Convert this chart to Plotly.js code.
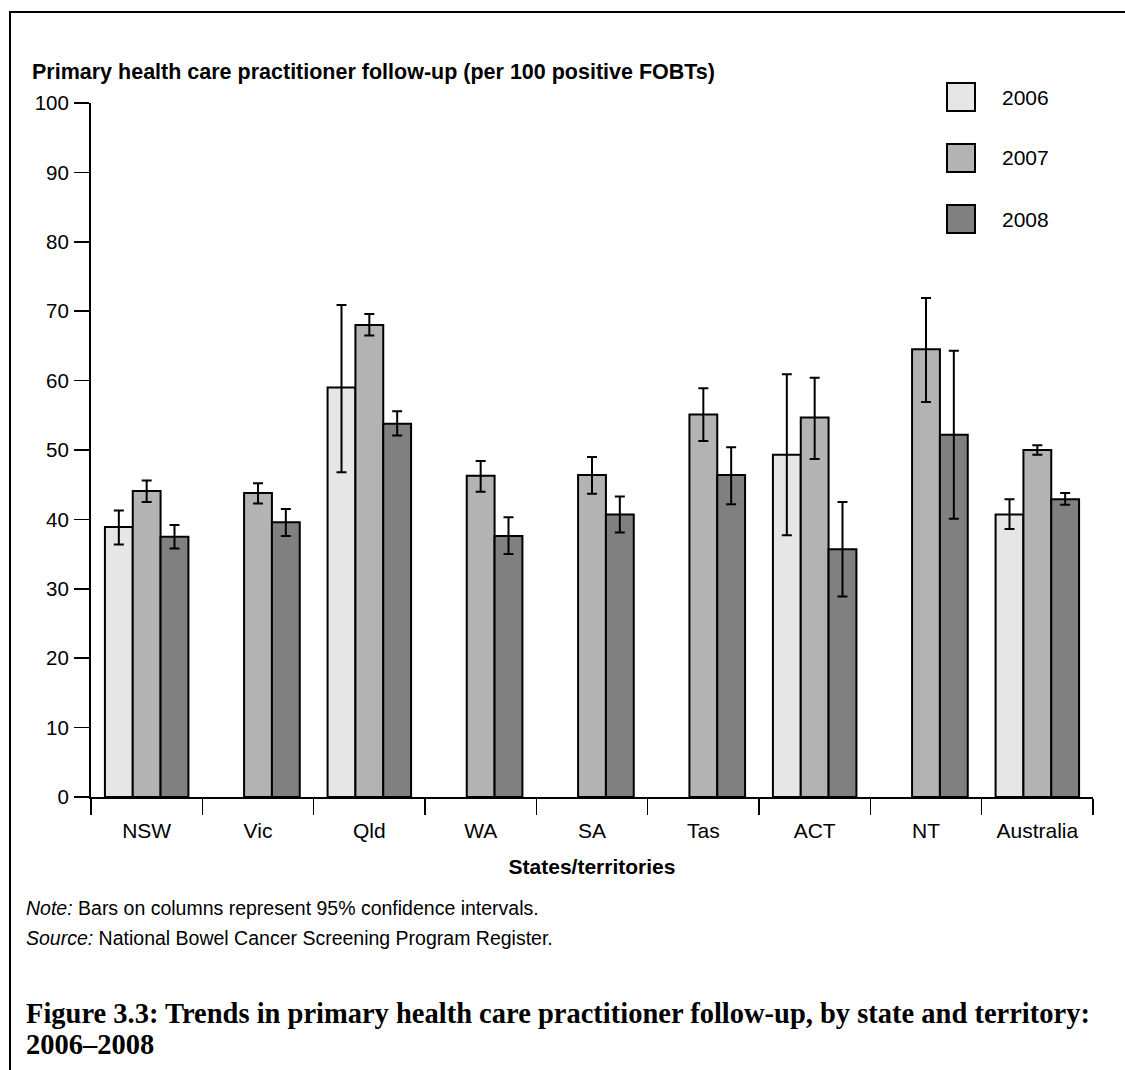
<!DOCTYPE html>
<html>
<head>
<meta charset="utf-8">
<script src="https://cdn.plot.ly/plotly-3.0.1.min.js"></script>
<style>
  html, body { margin: 0; padding: 0; background: #ffffff; }
  #wrap { position: relative; width: 1125px; height: 1070px; overflow: hidden; }
  #chart { position: absolute; left: 0; top: 0; width: 1125px; height: 1070px; }
  #frame { position: absolute; left: 9px; top: 11px; width: 1200px; height: 1200px;
           border-left: 2px solid #000; border-top: 2px solid #000; pointer-events: none; }
</style>
</head>
<body>
<div id="wrap">
  <div id="chart"></div>
  <div id="frame"></div>
</div>
<script>
// ---- data ----
const categories = ["NSW", "Vic", "Qld", "WA", "SA", "Tas", "ACT", "NT", "Australia"];
const seriesNames = ["2006", "2007", "2008"];
const seriesColors = ["#e6e6e6", "#b3b3b3", "#808080"];

const values2006 = [38.9, null, 59.0, null, null, null, 49.3, null, 40.7];
const lower2006  = [36.4, null, 46.8, null, null, null, 37.7, null, 38.6];
const upper2006  = [41.3, null, 70.9, null, null, null, 60.9, null, 42.9];

const values2007 = [44.1, 43.8, 68.0, 46.3, 46.4, 55.1, 54.7, 64.5, 50.0];
const lower2007  = [42.5, 42.3, 66.5, 44.0, 43.7, 51.3, 48.7, 56.9, 49.3];
const upper2007  = [45.6, 45.2, 69.6, 48.4, 49.0, 58.9, 60.4, 71.9, 50.7];

const values2008 = [37.5, 39.6, 53.8, 37.6, 40.7, 46.4, 35.7, 52.2, 42.9];
const lower2008  = [35.8, 37.6, 52.1, 35.0, 38.1, 42.2, 28.9, 40.1, 42.1];
const upper2008  = [39.2, 41.5, 55.6, 40.3, 43.3, 50.4, 42.5, 64.3, 43.8];

const yTickValues = [0, 10, 20, 30, 40, 50, 60, 70, 80, 90, 100];

const chartTitle = "Primary health care practitioner follow-up (per 100 positive FOBTs)";
const xAxisTitle = "States/territories";
const noteText = "<i>Note:</i> Bars on columns represent 95% confidence intervals.";
const sourceText = "<i>Source:</i> National Bowel Cancer Screening Program Register.";
const captionLines = ["Figure 3.3: Trends in primary health care practitioner follow-up, by state and territory:", "2006\u20132008"];

// ---- layout geometry (pixels) ----
const W = 1125, H = 1070;
const M = { l: 91, r: 32, t: 103, b: 273 };
const plotW = W - M.l - M.r, plotH = H - M.t - M.b;
const px2x = px => (px - M.l) / plotW;
const px2y = py => (H - M.b - py) / plotH;

const sans = "Liberation Sans, Arial, sans-serif";
const allValues = [values2006, values2007, values2008];
const allLower = [lower2006, lower2007, lower2008];
const allUpper = [upper2006, upper2007, upper2008];

const traces = allValues.map((vals, i) => ({
  type: "bar",
  name: seriesNames[i],
  x: categories,
  y: vals,
  marker: { color: seriesColors[i], line: { color: "#000000", width: 2 } },
  error_y: {
    type: "data",
    symmetric: false,
    array: vals.map((v, k) => v == null ? null : +(allUpper[i][k] - v).toFixed(2)),
    arrayminus: vals.map((v, k) => v == null ? null : +(v - allLower[i][k]).toFixed(2)),
    color: "#000000",
    thickness: 2,
    width: 5
  },
  showlegend: false,
  hoverinfo: "skip"
}));

// manual legend (large swatches like the reference)
const legendShapes = [];
const legendAnnots = [];
const legendCentersPx = [97, 158, 219];
seriesNames.forEach((nm, i) => {
  const cy = legendCentersPx[i];
  legendShapes.push({
    type: "rect", xref: "paper", yref: "paper",
    x0: px2x(947), x1: px2x(975), y0: px2y(cy + 14), y1: px2y(cy - 14),
    fillcolor: seriesColors[i], line: { color: "#000000", width: 2 }
  });
  legendAnnots.push({
    xref: "paper", yref: "paper", x: px2x(1000), y: px2y(cy),
    xanchor: "left", yanchor: "middle", showarrow: false, text: nm,
    font: { family: sans, size: 21, color: "#000000" }
  });
});

const captionAnnots = captionLines.map((line, i) => ({
  xref: "paper", yref: "paper", x: px2x(24), y: px2y(1013 + 31 * i),
  xanchor: "left", yanchor: "middle", align: "left", showarrow: false,
  text: "<b>" + line + "</b>",
  font: { family: "Liberation Serif, Times New Roman, serif", size: 28.5, color: "#000000" }
}));

const layout = {
  width: W, height: H,
  margin: M,
  paper_bgcolor: "#ffffff",
  plot_bgcolor: "#ffffff",
  barmode: "group",
  bargap: 0.25,
  bargroupgap: 0,
  font: { family: sans, size: 20, color: "#000000" },
  xaxis: {
    type: "category",
    range: [-0.5, 8.5],
    showline: true, linecolor: "#000000", linewidth: 2,
    ticks: "outside", tickson: "boundaries", ticklen: 16, tickwidth: 1.5, tickcolor: "#000000",
    showgrid: false, zeroline: false,
    tickfont: { family: sans, size: 21, color: "#000000" },
    ticklabelstandoff: 14,
    title: { text: "<b>" + xAxisTitle + "</b>", font: { family: sans, size: 21, color: "#000000" }, standoff: 18 },
    fixedrange: true
  },
  yaxis: {
    range: [0, 100],
    tickvals: yTickValues,
    showline: true, linecolor: "#000000", linewidth: 2,
    ticks: "outside", ticklen: 15, tickwidth: 1.5, tickcolor: "#000000",
    showgrid: false, zeroline: false,
    tickfont: { family: sans, size: 20.5, color: "#000000" },
    ticklabelstandoff: 1,
    fixedrange: true
  },
  shapes: legendShapes,
  annotations: [
    {
      xref: "paper", yref: "paper", x: px2x(30), y: px2y(72),
      xanchor: "left", yanchor: "middle", showarrow: false,
      text: "<b>" + chartTitle + "</b>",
      font: { family: sans, size: 21.5, color: "#000000" }
    },
    {
      xref: "paper", yref: "paper", x: px2x(24), y: px2y(908),
      xanchor: "left", yanchor: "middle", showarrow: false, text: noteText,
      font: { family: sans, size: 19.5, color: "#000000" }
    },
    {
      xref: "paper", yref: "paper", x: px2x(24), y: px2y(938),
      xanchor: "left", yanchor: "middle", showarrow: false, text: sourceText,
      font: { family: sans, size: 19.5, color: "#000000" }
    }
  ].concat(captionAnnots, legendAnnots)
};

Plotly.newPlot("chart", traces, layout, { displayModeBar: false, staticPlot: true });
</script>
</body>
</html>
